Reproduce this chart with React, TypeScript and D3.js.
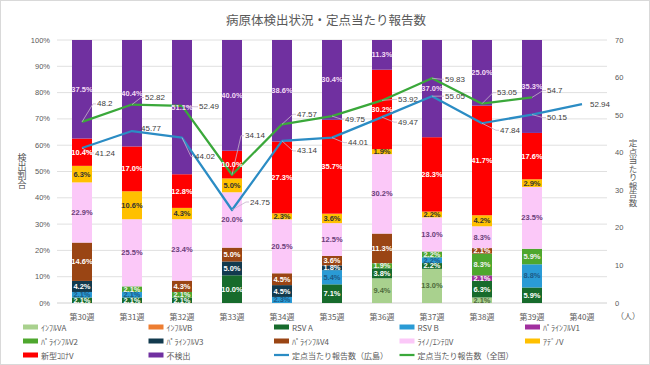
import React from 'react';
import * as d3 from 'd3';

// ---------- data ----------
const weeks = ['第30週', '第31週', '第32週', '第33週', '第34週', '第35週', '第36週', '第37週', '第38週', '第39週', '第40週'];

const infA = [0, 0, 0, 0, 0, 0, 9.4, 13.0, 2.1, 0, 0];
const infB = [0, 0, 0, 0, 0, 0, 0, 0, 0, 0, 0];
const rsvA = [2.1, 2.1, 2.1, 10.0, 0, 7.1, 3.8, 2.2, 6.3, 5.9, 0];
const rsvB = [2.1, 2.1, 0, 0, 2.3, 5.4, 0, 2.2, 0, 8.8, 0];
const para1 = [0, 0, 0, 0, 0, 0, 0, 0, 2.1, 0, 0];
const para2 = [0, 2.1, 2.1, 0, 0, 0, 1.9, 2.2, 8.3, 5.9, 0];
const para3 = [4.2, 0, 0, 5.0, 4.5, 1.8, 0, 0, 0, 0, 0];
const para4 = [14.6, 0, 4.3, 5.0, 4.5, 3.6, 11.3, 0, 2.1, 0, 0];
const rhino = [22.9, 25.5, 23.4, 20.0, 20.5, 12.5, 30.2, 13.0, 8.3, 23.5, 0];
const adeno = [6.3, 10.6, 4.3, 5.0, 2.3, 3.6, 1.9, 2.2, 4.2, 2.9, 0];
const corona = [10.4, 17.0, 12.8, 10.0, 27.3, 35.7, 30.2, 28.3, 41.7, 17.6, 0];
const notDetected = [37.5, 40.4, 51.1, 40.0, 38.6, 30.4, 11.3, 37.0, 25.0, 35.3, 0];

const hiroshima = [41.24, 45.77, 44.02, 24.75, 43.14, 44.01, 49.47, 55.05, 47.84, 50.15, 52.94];
const national: (number | null)[] = [48.2, 52.82, 52.49, 34.14, 47.57, 49.75, 53.92, 59.83, 53.05, 54.7, null];

const seriesNames = ['ｲﾝﾌﾙVA', 'ｲﾝﾌﾙVB', 'RSV A', 'RSV B', 'ﾊﾟﾗｲﾝﾌﾙV1', 'ﾊﾟﾗｲﾝﾌﾙV2', 'ﾊﾟﾗｲﾝﾌﾙV3', 'ﾊﾟﾗｲﾝﾌﾙV4', 'ﾗｲﾉ/ｴﾝﾃﾛV', 'ｱﾃﾞﾉV', '新型ｺﾛﾅV', '不検出'];
const lineNames = ['定点当たり報告数（広島）', '定点当たり報告数（全国）'];
const seriesValues = [infA, infB, rsvA, rsvB, para1, para2, para3, para4, rhino, adeno, corona, notDetected];

const leftTicks = [0, 0.1, 0.2, 0.3, 0.4, 0.5, 0.6, 0.7, 0.8, 0.9, 1.0];
const rightTicks = [0, 10, 20, 30, 40, 50, 60, 70];

const title = '病原体検出状況・定点当たり報告数';
const leftTitle = '検出割合';
const rightTitle = '定点当たり報告数';
const unitLabel = '（人）';

// ---------- styles ----------
const seriesColors = ['#a9d18e', '#ed7d31', '#176b2c', '#2a9bd5', '#a1309e', '#4ea72e', '#123a4e', '#9a4514', '#fbc8f8', '#ffc000', '#ff0000', '#7030a0'];
const labelColors = ['#4f6b3c', '#ffffff', '#ffffff', '#1d5a86', '#ffffff', '#f2f2f2', '#ffffff', '#ffffff', '#6a3f78', '#333333', '#ffffff', '#f3dcf5'];
const lineColors = ['#2b8cc4', '#3aa83a'];

// label offsets (dx, dy) from data point, layout only
const hiroOffsets = [[13, 5], [9, -3], [13, 19], [18, -8], [15, 10], [16, 5], [16, 5], [13, 0], [18, 7], [15, 3], [8, 0]];
const natOffsets = [[15, -18], [13, -7], [17, 1], [13, -39], [15, -10], [13, 3], [16, -1], [13, 1], [15, -11], [15, -7]];

const W = 650, H = 365;
const PL = 57, PR = 607, PT = 40, PB = 303;
const FONT = '"Liberation Sans", Arial, "Noto Sans CJK JP", sans-serif';
const JFONT = '"Noto Sans CJK JP", "Liberation Sans", sans-serif';

export default function App() {
  const x = d3.scaleBand<string>().domain(weeks).range([PL, PR]).paddingInner(0.6).paddingOuter(0.3);
  const yL = d3.scaleLinear().domain([0, 1]).range([PB, PT]);
  const yR = d3.scaleLinear().domain([0, 70]).range([PB, PT]);

  const keys = seriesNames.map((_, i) => 's' + i);
  const rows = weeks.map((w, wi) => {
    const r: any = { week: w };
    seriesValues.forEach((arr, si) => { r['s' + si] = arr[wi]; });
    return r;
  });
  const stacked = d3.stack<any>().keys(keys).offset(d3.stackOffsetExpand)(rows);

  const cx = (i: number) => (x(weeks[i]) as number) + x.bandwidth() / 2;

  const lineGen = d3.line<[number, number | null]>()
    .defined(d => d[1] != null)
    .x(d => cx(d[0]))
    .y(d => yR(d[1] as number));

  const hiroPts: [number, number | null][] = hiroshima.map((v, i) => [i, v]);
  const natPts: [number, number | null][] = national.map((v, i) => [i, v]);

  const barLabels: any[] = [];
  stacked.forEach((layer, si) => {
    layer.forEach((d, wi) => {
      const v = seriesValues[si][wi];
      if (v > 0) {
        barLabels.push({ key: si + '-' + wi, x: cx(wi), y: (yL(d[0]) + yL(d[1])) / 2, text: v.toFixed(1) + '%', color: labelColors[si] });
      }
    });
  });

  const lineLabels: any[] = [];
  hiroshima.forEach((v, i) => {
    const px = cx(i), py = yR(v);
    const [dx, dy] = hiroOffsets[i];
    lineLabels.push({ key: 'h' + i, px, py, tx: px + dx, ty: py + dy, text: String(v) });
  });
  national.forEach((v, i) => {
    if (v == null) return;
    const px = cx(i), py = yR(v);
    const [dx, dy] = natOffsets[i];
    lineLabels.push({ key: 'n' + i, px, py, tx: px + dx, ty: py + dy, text: String(v) });
  });

  const legendItems = [
    ...seriesNames.map((n, i) => ({ name: n, color: seriesColors[i], type: 'bar' })),
    ...lineNames.map((n, i) => ({ name: n, color: lineColors[i], type: 'line' })),
  ];
  const legX = [23, 148.5, 274, 399.5, 525];
  const legY = [327, 341, 355];

  return (
    <svg width={W} height={H} style={{ position: 'absolute', left: 0, top: 0, background: '#fff' }}>
      <rect x={0.5} y={0.5} width={W - 1} height={H - 1} fill="#fff" stroke="#d9d9d9" />
      <text x={326} y={19} textAnchor="middle" dominantBaseline="central" fontFamily={JFONT} fontSize={12.5} fill="#595959">{title}</text>

      {/* gridlines */}
      {leftTicks.map(t => (
        <line key={'g' + t} x1={PL} x2={PR} y1={yL(t)} y2={yL(t)} stroke={t === 0 ? '#d0d0d0' : '#e0e0e0'} strokeWidth={1} />
      ))}
      {leftTicks.map(t => (
        <text key={'lt' + t} x={50} y={yL(t)} textAnchor="end" dominantBaseline="central" fontFamily={FONT} fontSize={7.5} fill="#595959">{Math.round(t * 100) + '%'}</text>
      ))}
      {rightTicks.map(t => (
        <text key={'rt' + t} x={615} y={yR(t)} textAnchor="start" dominantBaseline="central" fontFamily={FONT} fontSize={7.5} fill="#595959">{t}</text>
      ))}
      {weeks.map((w, i) => (
        <text key={'w' + w} x={cx(i)} y={316} textAnchor="middle" dominantBaseline="central" fontFamily={JFONT} fontSize={8} fill="#595959">{w}</text>
      ))}
      <text x={22} y={171} textAnchor="middle" fontFamily={JFONT} fontSize={9} fill="#595959" style={{ writingMode: 'vertical-rl' } as any}>{leftTitle}</text>
      <text x={633} y={173} textAnchor="middle" fontFamily={JFONT} fontSize={8.5} fill="#595959" style={{ writingMode: 'vertical-rl' } as any}>{rightTitle}</text>
      <text x={628} y={315} textAnchor="middle" dominantBaseline="central" fontFamily={JFONT} fontSize={8} fill="#595959">{unitLabel}</text>

      {/* bars */}
      {stacked.map((layer, si) => (
        <g key={'layer' + si} fill={seriesColors[si]}>
          {layer.map((d, wi) => {
            const h = yL(d[0]) - yL(d[1]);
            if (!(h > 0)) return null;
            return <rect key={wi} x={x(weeks[wi])} y={yL(d[1])} width={x.bandwidth()} height={h} />;
          })}
        </g>
      ))}

      {/* lines */}
      <path d={lineGen(hiroPts) || ''} fill="none" stroke={lineColors[0]} strokeWidth={2.25} strokeLinejoin="round" />
      <path d={lineGen(natPts) || ''} fill="none" stroke={lineColors[1]} strokeWidth={2.25} strokeLinejoin="round" />

      {/* leader lines */}
      {lineLabels.map(l => {
        const dist = Math.hypot(l.tx - l.px, l.ty - l.py);
        if (dist < 10) return null;
        return <polyline key={'ld' + l.key} points={`${l.px},${l.py} ${l.tx - 4},${l.ty} ${l.tx - 1},${l.ty}`} fill="none" stroke="#c7b3cc" strokeWidth={0.8} />;
      })}

      {/* bar labels */}
      {barLabels.map(b => (
        <text key={'bl' + b.key} x={b.x} y={b.y} textAnchor="middle" dominantBaseline="central" fontFamily={FONT} fontSize={7.5} fontWeight="bold" fill={b.color}>{b.text}</text>
      ))}

      {/* line labels */}
      {lineLabels.map(l => (
        <text key={'ll' + l.key} x={l.tx} y={l.ty} textAnchor="start" dominantBaseline="central" fontFamily={FONT} fontSize={8} fill="#404040">{l.text}</text>
      ))}

      {/* legend */}
      {legendItems.map((it, i) => {
        const lx = legX[i % 5];
        const ly = legY[Math.floor(i / 5)];
        return (
          <g key={'leg' + i}>
            {it.type === 'bar'
              ? <rect x={lx} y={ly - 2.5} width={15} height={5} fill={it.color} />
              : <line x1={lx} x2={lx + 15} y1={ly} y2={ly} stroke={it.color} strokeWidth={2.25} />}
            <text x={lx + 18} y={ly} dominantBaseline="central" fontFamily={JFONT} fontSize={8} fill="#595959">{it.name}</text>
          </g>
        );
      })}
    </svg>
  );
}
